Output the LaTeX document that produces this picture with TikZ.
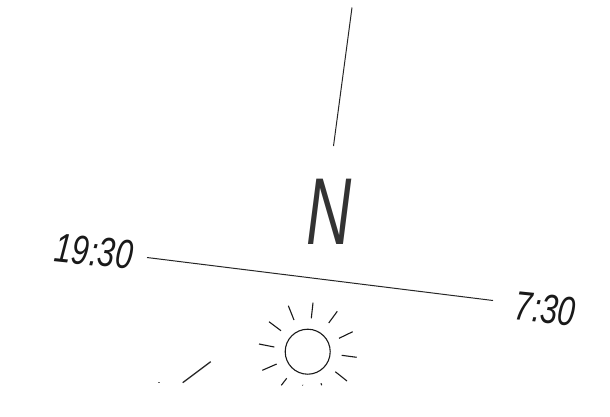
\documentclass[tikz,border=0pt]{standalone}
\usepackage{fontspec}
\setmainfont{Liberation Sans}
\usepackage{tikz}
\tikzset{
  timelabel/.style={inner sep=0pt, font=\itshape\fontsize{41}{44}\selectfont, rotate=-6, text=black!90},
  northlabel/.style={inner sep=0pt, font=\itshape\fontsize{95}{98}\selectfont, text=black!80},
  rayline/.style={line width=1.1pt, black!90},
  thinline/.style={line width=1pt, black!85}
}
\begin{document}
\begin{tikzpicture}[x=1pt,y=-1pt]
\useasboundingbox (0,0) rectangle (610,416);
% north
\coordinate (northtop) at (352,7.5);
\coordinate (northend) at (333.5,146);
\draw[thinline] (northtop) -- (northend);
\node[northlabel] (north) at (329.5,212) {\scalebox{0.66}[1]{N}};
% day line
\node[timelabel] (evening) at (94,251.5) {\scalebox{0.76}[1]{19:30}};
\node[timelabel] (morning) at (545.5,309) {\scalebox{0.76}[1]{7:30}};
\coordinate (eveningend) at (147,257.5);
\coordinate (morningend) at (493,300.5);
\draw[thinline] (eveningend) -- (morningend);
% sun
\node[draw, circle, line width=1.1pt, black!90, minimum size=45pt, inner sep=0pt] (sun) at (307.7,351.7) {};
\foreach \ax/\ay/\bx/\by in {288.3/305.7/294/320, 313/302.7/311.3/318.3, 337.3/311.3/328.7/323, 352.7/331.7/339/338.3, 356.7/357.3/341.7/355.3, 347/381/335.3/371.7, 321.7/385.3/321/383.3, 303/385.3/302.5/385, 281.3/385.3/286.7/378.3, 262.3/370.3/276.7/364, 259/344/274.3/347, 269/321.7/281/330.7}{
  \draw[rayline] (\ax,\ay) -- (\bx,\by);
}
% shadow
\draw[line width=1.3pt, black!85] (182.7,382.7) -- (210.7,361.7);
\draw[line width=1pt, black!60] (158,382.7) -- (160,382.7);
\end{tikzpicture}
\end{document}
